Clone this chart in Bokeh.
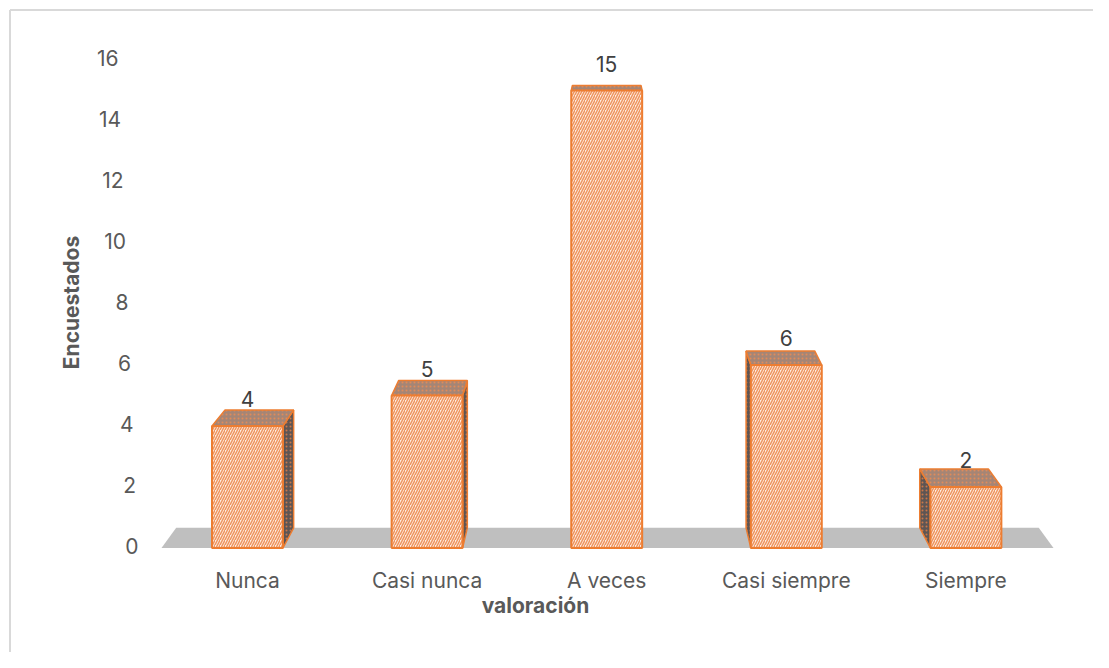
import math
from bokeh.plotting import figure
from bokeh.models import Range1d, ColumnDataSource
from bokeh.core.properties import value
from bokeh.embed import file_html
from bokeh.resources import INLINE

# ---- data ----
categories = ["Nunca", "Casi nunca", "A veces", "Casi siempre", "Siempre"]
counts = [4, 5, 15, 6, 2]
y_ticks = [0, 2, 4, 6, 8, 10, 12, 14, 16]
y_tick_labels = ["0", "2", "4", "6", "8", "10", "12", "14", "16"]
x_title = "valoración"
y_title = "Encuestados"

# ---- layout helpers (picture pixels -> data coordinates) ----
W, H = 1093, 652
X0, XS = 247.0, 179.6     # pixel x of first category, px per category
Y0, YS = 547.5, 30.5      # pixel y of value 0, px per unit


def dx(px):
    return (px - X0) / XS


def dy(py):
    return (Y0 - py) / YS


VPX, VPY, T = 2.0, 20.0, 0.033   # one-point perspective vanishing point, depth


def back(x, y):
    return x + T * (VPX - x), y + T * (VPY - y)


FONT = value("Inter")
TXT = "#595959"
FS = "21px"

p = figure(width=W, height=H,
           x_range=Range1d(dx(0), dx(W)),
           y_range=Range1d(dy(H), dy(0)),
           x_axis_location=None, y_axis_location=None,
           output_backend="svg", toolbar_location=None, min_border=0)
p.grid.visible = False
p.outline_line_color = None
p.background_fill_color = "white"
p.border_fill_color = "white"

# outer chart border (top and left visible)
p.line([dx(9.5), dx(W)], [dy(9.5), dy(9.5)], line_color="#D9D9D9", line_width=2)
p.line([dx(9.5), dx(9.5)], [dy(9.5), dy(H)], line_color="#D9D9D9", line_width=2)

# ---- floor ----
fl, fr = dx(161), dx(1053)
blx, bly = back(fl, 0)
brx, bry = back(fr, 0)
p.patch([fl, fr, brx, blx], [0, 0, bry, bly], fill_color="#BFBFBF", line_color=None)

HW = 0.1975
xs_idx = list(range(len(categories)))

# ---- side faces ----
side_xs, side_ys = [], []
for i, v in zip(xs_idx, counts):
    if i == VPX:
        continue
    ex = i + HW if i < VPX else i - HW
    bx1, by1 = back(ex, v)
    bx0, by0 = back(ex, 0)
    side_xs.append([ex, ex, bx1, bx0])
    side_ys.append([0, v, by1, by0])
p.patches(side_xs, side_ys, fill_color="#5E5553", hatch_pattern=".", hatch_color="#C9774A",
          hatch_scale=4, hatch_weight=1.2, line_color="#ED7D31", line_width=1.5)

# ---- top faces ----
top_xs, top_ys = [], []
for i, v in zip(xs_idx, counts):
    xl, xr = i - HW, i + HW
    bxl, byl = back(xl, v)
    bxr, byr = back(xr, v)
    top_xs.append([xl, xr, bxr, bxl])
    top_ys.append([v, v, byr, byl])
p.patches(top_xs, top_ys, fill_color="#A58575", hatch_pattern=".", hatch_color="#E08A5A",
          hatch_scale=4, hatch_weight=1.2, line_color="#ED7D31", line_width=1.5)

# ---- front faces ----
src = ColumnDataSource(dict(x=xs_idx, top=counts, cat=categories))
p.vbar(x="x", top="top", bottom=0, width=2 * HW, source=src,
       fill_color="#FDEDE3", hatch_pattern="/", hatch_color="#EF955F",
       hatch_scale=5, hatch_weight=1.5, line_color="#ED7D31", line_width=2)

# ---- value labels ----
lab_y = [back(i, v)[1] + (0.95 * v + 7.0) / YS for i, v in zip(xs_idx, counts)]
p.text(x=xs_idx, y=lab_y, text=[str(v) for v in counts], text_align="center",
       text_baseline="alphabetic", text_font=FONT, text_font_size=FS, text_color="#404040")

# ---- y tick labels (slanted 3D axis) ----
p.text(x=[dx(138 - 1.25 * v) for v in y_ticks], y=[t + 2 / YS for t in y_ticks],
       text=y_tick_labels, text_align="right", text_baseline="middle", text_font=FONT,
       text_font_size=FS, text_color=TXT)

# ---- x tick labels ----
p.text(x=xs_idx, y=[dy(580)] * len(categories), text=categories, text_align="center",
       text_baseline="alphabetic", text_font=FONT, text_font_size=FS, text_color=TXT)

# ---- axis titles ----
p.text(x=[dx(535)], y=[dy(605)], text=[x_title], text_align="center",
       text_baseline="alphabetic", text_font=FONT, text_font_size=FS,
       text_font_style="bold", text_color=TXT)
p.text(x=[dx(71)], y=[dy(302)], text=[y_title], angle=math.pi / 2, text_align="center",
       text_baseline="middle", text_font=FONT, text_font_size=FS,
       text_font_style="bold", text_color=TXT)

open("out.html", "w").write(file_html(p, INLINE))
